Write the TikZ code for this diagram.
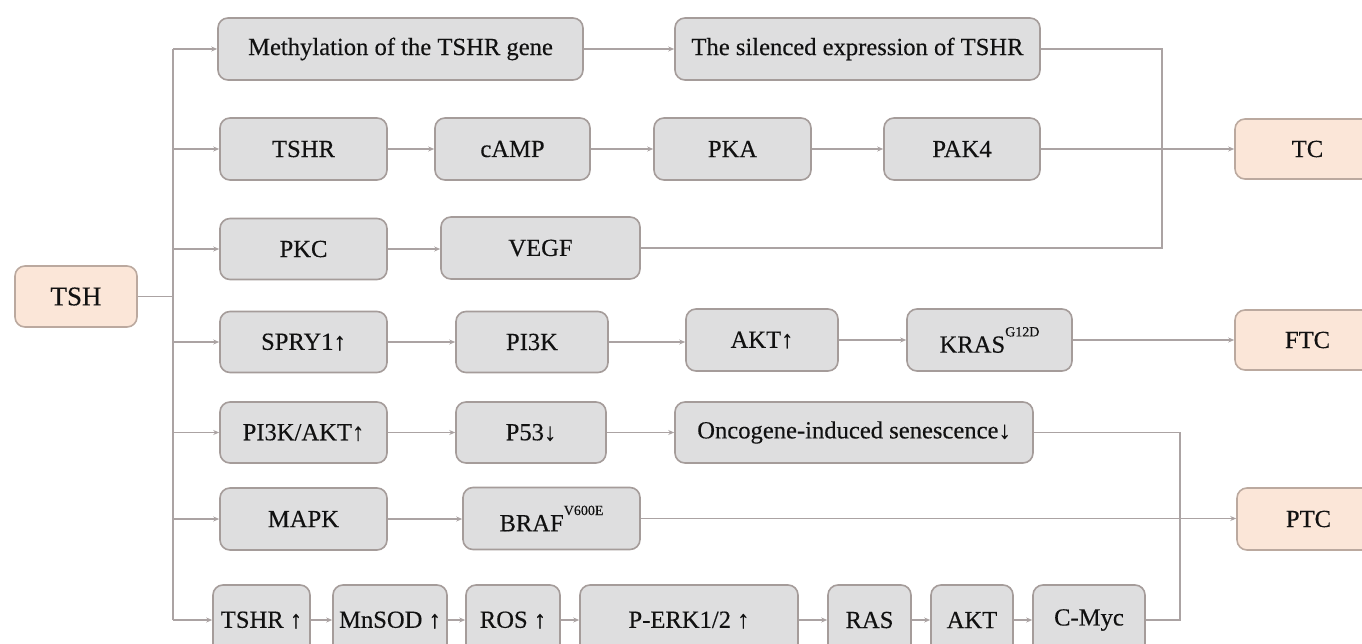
\documentclass[tikz,border=0pt]{standalone}
\usepackage{fontspec}
\setmainfont{Liberation Serif}
\usetikzlibrary{arrows.meta}
\definecolor{gfill}{HTML}{DEDEDF}
\definecolor{gdraw}{HTML}{A59C9A}
\definecolor{pfill}{HTML}{FBE6D8}
\definecolor{pdraw}{HTML}{BBA99F}
\definecolor{lcol}{HTML}{ABA3A3}
\definecolor{tcol}{HTML}{111111}
\newcommand{\supx}[1]{\raisebox{0.66em}{\fontsize{14}{14}\selectfont #1}}
\begin{document}
\begin{tikzpicture}[x=1pt,y=-1pt,
  base/.style={rounded corners=10pt, line width=1.6pt, inner sep=0pt, text=tcol,
    font=\fontsize{24.6}{27}\selectfont\addfontfeature{FakeBold=0.3}},
  gbox/.style={base, fill=gfill, draw=gdraw},
  pbox/.style={base, fill=pfill, draw=pdraw},
  conn/.style={draw=lcol, line width=1.7pt},
  arr/.style={conn, -{Stealth[length=6pt,width=5pt]}}]
\useasboundingbox (0,0) rectangle (1362,644);
% source
\node[pbox, minimum width=122pt, minimum height=61pt, font=\fontsize{27}{29}\selectfont\addfontfeature{FakeBold=0.3}] (tsh) at (76,296.5) {TSH};
% row 1
\node[gbox, minimum width=365pt, minimum height=62pt] (meth) at (400.5,49) {Methylation of the TSHR gene};
\node[gbox, minimum width=365pt, minimum height=62pt] (sil) at (857.5,49) {The silenced expression of TSHR};
% row 2
\node[gbox, minimum width=167pt, minimum height=62pt] (tshr) at (303.5,149) {TSHR};
\node[gbox, minimum width=155pt, minimum height=62pt] (camp) at (512.5,149) {cAMP};
\node[gbox, minimum width=157pt, minimum height=62pt] (pka) at (732.5,149) {PKA};
\node[gbox, minimum width=156pt, minimum height=62pt] (pak) at (962,149) {PAK4};
\node[pbox, minimum width=145pt, minimum height=60pt] (tc) at (1307.5,149) {TC};
% row 3
\node[gbox, minimum width=167pt, minimum height=61pt] (pkc) at (303.5,249) {PKC};
\node[gbox, minimum width=199pt, minimum height=62pt] (vegf) at (540.5,248) {VEGF};
% row 4
\node[gbox, minimum width=167pt, minimum height=61pt] (spry) at (303.5,342) {SPRY1↑};
\node[gbox, minimum width=152pt, minimum height=61pt] (pi3k) at (532,342) {PI3K};
\node[gbox, minimum width=152pt, minimum height=62pt] (akta) at (762,340) {AKT↑};
\node[gbox, minimum width=165pt, minimum height=62pt] (kras) at (989.5,340) {KRAS\supx{G12D}};
\node[pbox, minimum width=145pt, minimum height=60pt] (ftc) at (1307.5,340) {FTC};
% row 5
\node[gbox, minimum width=167pt, minimum height=61pt] (pa) at (303.5,432.5) {PI3K/AKT↑};
\node[gbox, minimum width=150pt, minimum height=61pt] (p53) at (531,432.5) {P53↓};
\node[gbox, minimum width=358pt, minimum height=61pt] (onc) at (854,432.5) {Oncogene-induced senescence↓};
% row 6
\node[gbox, minimum width=167pt, minimum height=62pt] (mapk) at (303.5,519) {MAPK};
\node[gbox, minimum width=177pt, minimum height=62pt] (braf) at (551.5,518.5) {BRAF\supx{V600E}};
\node[pbox, minimum width=143pt, minimum height=62pt] (ptc) at (1308.5,519) {PTC};
% row 7
\node[gbox, minimum width=97pt, minimum height=70pt] (tshru) at (261.5,620) {TSHR ↑};
\node[gbox, minimum width=114pt, minimum height=70pt] (mnsod) at (390,620) {MnSOD ↑};
\node[gbox, minimum width=94pt, minimum height=70pt] (ros) at (513,620) {ROS ↑};
\node[gbox, minimum width=218pt, minimum height=70pt] (perk) at (689,620) {P-ERK1/2 ↑};
\node[gbox, minimum width=83pt, minimum height=70pt] (ras) at (869.5,620) {RAS};
\node[gbox, minimum width=82pt, minimum height=70pt] (aktb) at (972,620) {AKT};
\node[gbox, minimum width=112pt, minimum height=70pt] (cmyc) at (1089,620) {C-Myc};
% bus
\coordinate (bt) at (173,49);
\coordinate (bb) at (173,620);
\coordinate (tcv) at (1162,49);
\coordinate (ptcv) at (1180,620);
\draw[conn] (tsh.east) -- (tsh.east -| bt);
\draw[conn] (bt) -- (bb);
\draw[arr] (bt) -- (meth.west);
\draw[arr] (tshr.west -| bt) -- (tshr.west);
\draw[arr] (pkc.west -| bt) -- (pkc.west);
\draw[arr] (spry.west -| bt) -- (spry.west);
\draw[arr] (pa.west -| bt) -- (pa.west);
\draw[arr] (mapk.west -| bt) -- (mapk.west);
\draw[arr] (bb) -- (tshru.west);
% row chains
\draw[arr] (meth) -- (sil);
\draw[arr] (tshr) -- (camp);
\draw[arr] (camp) -- (pka);
\draw[arr] (pka) -- (pak);
\draw[arr] (pak) -- (tc);
\draw[conn] (sil.east) -- (tcv) |- (vegf.east);
\draw[arr] (pkc.east) -- (pkc.east -| vegf.west);
\draw[arr] (spry.east) -- (spry.east -| pi3k.west);
\draw[arr] (pi3k.east) -- (pi3k.east -| akta.west);
\draw[arr] (akta) -- (kras);
\draw[arr] (kras) -- (ftc);
\draw[arr] (pa) -- (p53);
\draw[arr] (p53) -- (onc);
\draw[arr] (mapk.east) -- (mapk.east -| braf.west);
\draw[arr] (braf.east) -- (braf.east -| ptc.west);
\draw[arr] (tshru) -- (mnsod);
\draw[arr] (mnsod) -- (ros);
\draw[arr] (ros) -- (perk);
\draw[arr] (perk) -- (ras);
\draw[arr] (ras) -- (aktb);
\draw[arr] (aktb) -- (cmyc);
\draw[conn] (onc.east) -| (ptcv) -- (cmyc.east);
\end{tikzpicture}
\end{document}
